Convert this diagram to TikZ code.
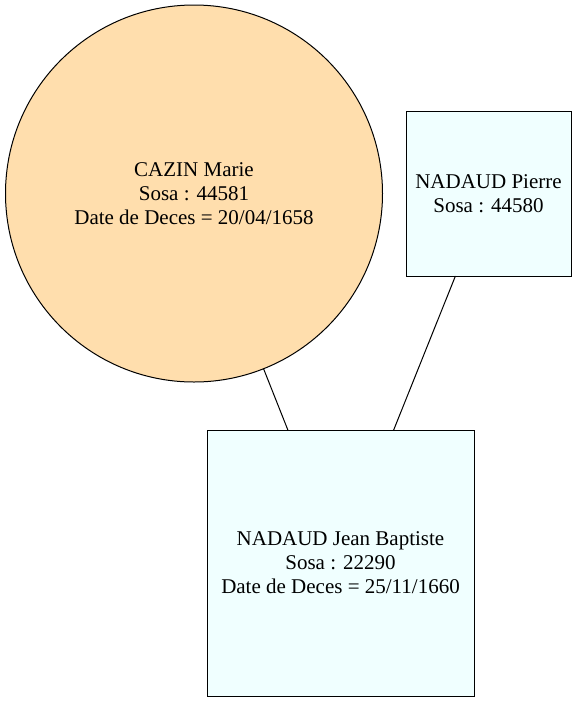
\documentclass[tikz,border=0pt]{standalone}
\usepackage{fontspec}
\setmainfont{Liberation Serif}
\definecolor{navajo}{HTML}{FFDEAD}
\definecolor{azurebg}{HTML}{F0FFFF}
\tikzset{
  person/.style={draw, line width=1pt, align=center, inner sep=0pt, outer sep=0pt,
    font=\fontsize{21}{24}\selectfont},
  female/.style={person, circle, fill=navajo, minimum size=377pt},
  male/.style={person, rectangle, fill=azurebg},
}
\begin{document}
\begin{tikzpicture}[x=1pt,y=-1pt]
      \useasboundingbox (0,0) rectangle (577,702);
      \draw
        (194,193.5) node[female] (marie){CAZIN Marie\\Sosa : 44581\\Date de Deces = 20/04/1658}
        (488.5,193.5) node[male, minimum width=165pt, minimum height=165pt] (pierre){NADAUD Pierre\\Sosa : 44580}
        (340.5,563) node[male, minimum width=267pt, minimum height=266pt] (jean){NADAUD Jean Baptiste\\Sosa : 22290\\Date de Deces = 25/11/1660};
      \begin{scope}[-, line width=1pt]
        \draw (marie) to (jean);
        \draw (pierre) to (jean);
      \end{scope}
    \end{tikzpicture}
\end{document}
